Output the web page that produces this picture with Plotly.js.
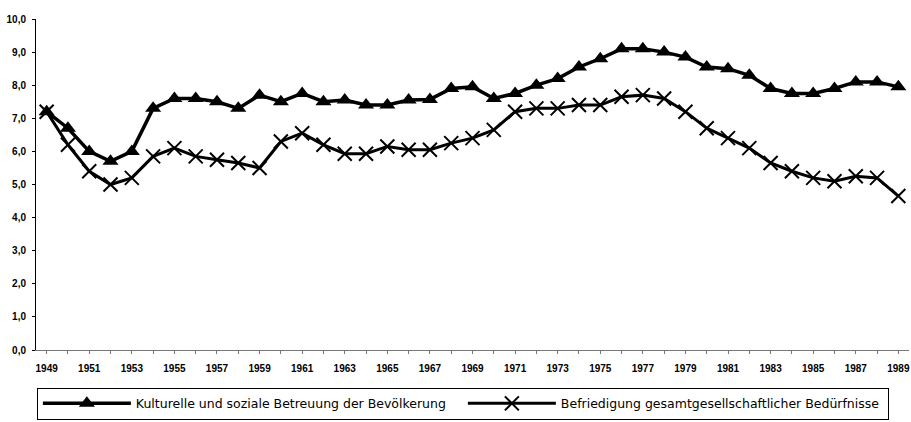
<!DOCTYPE html>
<html>
<head>
<meta charset="utf-8">
<script src="https://cdn.plot.ly/plotly-3.0.1.min.js"></script>
<style>html,body{margin:0;padding:0;background:#fff;}#chart{width:911px;height:422px;}</style>
</head>
<body>
<div id="chart"></div>
<script>
var years = [1949,1950,1951,1952,1953,1954,1955,1956,1957,1958,1959,1960,1961,1962,1963,1964,1965,1966,1967,1968,1969,1970,1971,1972,1973,1974,1975,1976,1977,1978,1979,1980,1981,1982,1983,1984,1985,1986,1987,1988,1989];
var kultur = [7.2,6.7,6.0,5.7,6.0,7.3,7.6,7.6,7.5,7.3,7.7,7.5,7.75,7.5,7.55,7.4,7.4,7.55,7.57,7.9,7.95,7.6,7.75,8.0,8.2,8.55,8.8,9.1,9.1,9.0,8.85,8.55,8.5,8.3,7.9,7.75,7.75,7.9,8.1,8.1,7.95];
var befried = [7.2,6.2,5.4,5.0,5.2,5.85,6.1,5.85,5.75,5.65,5.5,6.3,6.55,6.2,5.93,5.93,6.15,6.05,6.05,6.25,6.4,6.65,7.2,7.3,7.3,7.4,7.4,7.65,7.7,7.6,7.2,6.7,6.4,6.1,5.65,5.4,5.2,5.1,5.25,5.2,4.65];
var xTickVals = [1949,1951,1953,1955,1957,1959,1961,1963,1965,1967,1969,1971,1973,1975,1977,1979,1981,1983,1985,1987,1989];
var xTickText = ['1949','1951','1953','1955','1957','1959','1961','1963','1965','1967','1969','1971','1973','1975','1977','1979','1981','1983','1985','1987','1989'];
var seriesNames = ['Kulturelle und soziale Betreuung der Bevölkerung','Befriedigung gesamtgesellschaftlicher Bedürfnisse'];

var traces = [
  {x: years, y: kultur, name: seriesNames[0], type: 'scatter', mode: 'lines+markers',
   line: {color: '#000', width: 3.5},
   marker: {symbol: 'triangle-up', size: 14, color: '#000'}},
  {x: years, y: befried, name: seriesNames[1], type: 'scatter', mode: 'lines+markers',
   line: {color: '#000', width: 3},
   marker: {symbol: 'x-thin', size: 14, color: '#000', line: {color: '#000', width: 2}}}
];

var layout = {
  width: 911, height: 422,
  margin: {l: 36, r: 2, t: 19, b: 70},
  paper_bgcolor: '#fff', plot_bgcolor: '#fff',
  separators: ',.',
  font: {family: 'Liberation Sans, Arial, sans-serif', color: '#000'},
  showlegend: true,
  legend: {orientation: 'h', x: 0.001, xanchor: 'left', y: -0.114, yanchor: 'top',
    bordercolor: '#000', borderwidth: 1, bgcolor: '#fff',
    font: {family: 'DejaVu Sans, sans-serif', size: 12.5, color: '#000'},
    itemwidth: 88, entrywidth: 322, traceorder: 'normal'},
  xaxis: {range: [1948.5, 1989.5], tickvals: xTickVals, ticktext: xTickText,
    showgrid: false, zeroline: false, showline: true, linecolor: '#777', linewidth: 1,
    ticks: 'outside', ticklen: 3, tickcolor: '#777', ticklabelstandoff: 6,
    minor: {dtick: 1, tick0: 1949, ticks: 'outside', ticklen: 3, tickcolor: '#777'},
    tickfont: {family: 'Liberation Sans, Arial, sans-serif', size: 10, color: '#000', weight: 'bold'}},
  yaxis: {range: [0, 10], dtick: 1, tickformat: '.1f',
    showgrid: false, zeroline: false, showline: true, linecolor: '#000', linewidth: 1,
    ticks: 'outside', ticklen: 3, tickcolor: '#000', ticklabelstandoff: 4,
    tickfont: {family: 'Liberation Sans, Arial, sans-serif', size: 10, color: '#000', weight: 'bold'}}
};

Plotly.newPlot('chart', traces, layout, {displayModeBar: false, staticPlot: true});
</script>
</body>
</html>
